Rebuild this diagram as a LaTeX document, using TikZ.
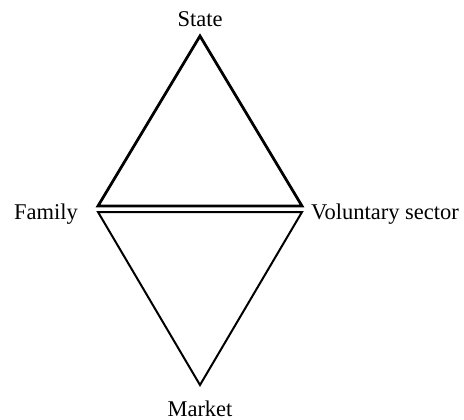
\documentclass[tikz,border=0pt]{standalone}
\usepackage{fontspec}
\setmainfont{Liberation Serif}
\begin{document}
\begin{tikzpicture}[x=1pt,y=-1pt,
  lbl/.style={font=\fontsize{22.5}{26}\selectfont, inner sep=0pt},
  thick edge/.style={line width=2.8pt, line join=miter},
  thin edge/.style={line width=2pt, line join=miter}]
\useasboundingbox (0,0) rectangle (464,420);
\coordinate (T) at (200,36);
\coordinate (L1) at (98,206);
\coordinate (R1) at (302,206);
\coordinate (L2) at (98,212);
\coordinate (R2) at (302,212);
\coordinate (B) at (200,385);
\draw[thick edge] (T) -- (L1) -- (R1) -- cycle;
\draw[thin edge] (L2) -- (R2) -- (B) -- cycle;
\node[lbl, anchor=base] (state) at (200,27) {State};
\node[lbl, anchor=base east] (family) at (78,219) {Family};
\node[lbl, anchor=base west] (vol) at (311,219) {Voluntary sector};
\node[lbl, anchor=base] (market) at (200,416) {Market};
\end{tikzpicture}
\end{document}
